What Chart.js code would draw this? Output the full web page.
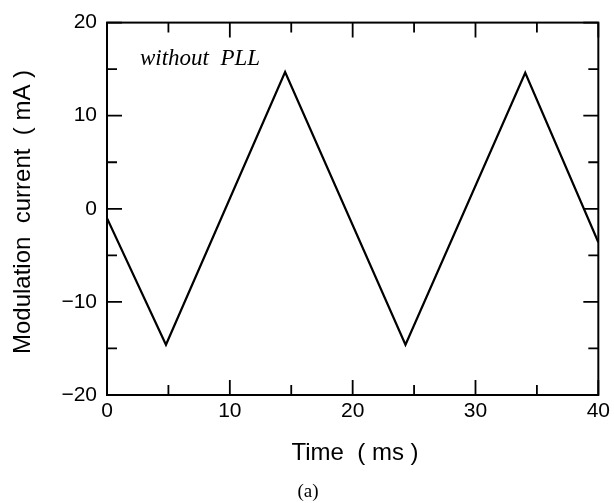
<!DOCTYPE html>
<html>
<head>
<meta charset="utf-8">
<script src="https://cdn.jsdelivr.net/npm/chart.js@4"></script>
<style>
  html, body { margin: 0; padding: 0; background: #fff; }
  #wrap { width: 614px; height: 503px; position: relative; }
</style>
</head>
<body>
<div id="wrap"><canvas id="chart"></canvas></div>
<script>
// values
const timeMs = [0, 4.8, 14.5, 24.3, 34.05, 40];
const currentMa = [-1.0, -14.6, 14.7, -14.6, 14.6, -3.6];

const xTicks = [0, 10, 20, 30, 40];
const xMinorTicks = [5, 15, 25, 35];
const yTicks = [-20, -10, 0, 10, 20];
const yMinorTicks = [-15, -5, 5, 15];

const xTitle = "Time  ( ms )";
const yTitle = "Modulation  current  ( mA )";
const note = "without  PLL";
const caption = "(a)";

// inward ticks on all four sides, frame, titles
const framePlugin = {
  id: "frame",
  afterDraw(chart) {
    const { ctx, chartArea: a, scales } = chart;
    const xs = scales.x, ys = scales.y;
    ctx.save();
    ctx.strokeStyle = "#000";
    ctx.lineWidth = 2;
    ctx.strokeRect(a.left, a.top, a.right - a.left, a.bottom - a.top);

    ctx.lineWidth = 1.8;
    const tick = (vals, len) => {
      vals.forEach(v => {
        const px = xs.getPixelForValue(v);
        ctx.beginPath();
        ctx.moveTo(px, a.bottom); ctx.lineTo(px, a.bottom - len);
        ctx.moveTo(px, a.top); ctx.lineTo(px, a.top + len);
        ctx.stroke();
      });
    };
    const ytick = (vals, len) => {
      vals.forEach(v => {
        const py = ys.getPixelForValue(v);
        ctx.beginPath();
        ctx.moveTo(a.left, py); ctx.lineTo(a.left + len, py);
        ctx.moveTo(a.right, py); ctx.lineTo(a.right - len, py);
        ctx.stroke();
      });
    };
    tick(xTicks, 15);
    tick(xMinorTicks, 10);
    ytick(yTicks, 15);
    ytick(yMinorTicks, 10);

    ctx.fillStyle = "#000";
    ctx.textAlign = "center";
    ctx.textBaseline = "middle";
    ctx.font = "24px 'Liberation Sans', Arial, sans-serif";
    ctx.fillText(xTitle, 355, 453);

    ctx.save();
    ctx.translate(23, 212);
    ctx.rotate(-Math.PI / 2);
    ctx.fillText(yTitle, 0, 0);
    ctx.restore();

    ctx.font = "italic 23px 'Liberation Serif', 'Times New Roman', serif";
    ctx.textAlign = "left";
    ctx.textBaseline = "alphabetic";
    ctx.fillText(note, 140, 65);

    ctx.font = "19px 'Liberation Serif', 'Times New Roman', serif";
    ctx.textAlign = "center";
    ctx.textBaseline = "middle";
    ctx.fillText(caption, 308, 492);
    ctx.restore();
  }
};

const ctx = document.getElementById("chart");
new Chart(ctx, {
  type: "line",
  data: {
    datasets: [
      {
        label: "Modulation current",
        data: timeMs.map((t, i) => ({ x: t, y: currentMa[i] })),
        borderColor: "#000",
        borderWidth: 2.2,
        pointRadius: 0,
        tension: 0,
        fill: false,
      },
    ],
  },
  options: {
    responsive: true,
    maintainAspectRatio: false,
    animation: false,
    layout: { padding: { left: 0, right: 14, top: 22, bottom: 0 } },
    plugins: { legend: { display: false }, tooltip: { enabled: false } },
    scales: {
      x: {
        type: "linear",
        min: 0,
        max: 40,
        afterBuildTicks: s => { s.ticks = xTicks.map(v => ({ value: v })); },
        afterFit: s => { s.height = 108; },
        ticks: {
          color: "#000",
          padding: 4,
          maxRotation: 0,
          font: { family: "'Liberation Sans', Arial, sans-serif", size: 21 },
        },
        grid: { display: false, drawTicks: false },
        border: { display: false },
      },
      y: {
        min: -20,
        max: 20,
        afterBuildTicks: s => { s.ticks = yTicks.map(v => ({ value: v })); },
        afterFit: s => { s.width = 107; },
        ticks: {
          color: "#000",
          padding: 10,
          callback: v => (v < 0 ? "\u2212" + Math.abs(v) : String(v)),
          font: { family: "'Liberation Sans', Arial, sans-serif", size: 21 },
        },
        grid: { display: false, drawTicks: false },
        border: { display: false },
      },
    },
  },
  plugins: [framePlugin],
});
</script>
</body>
</html>
